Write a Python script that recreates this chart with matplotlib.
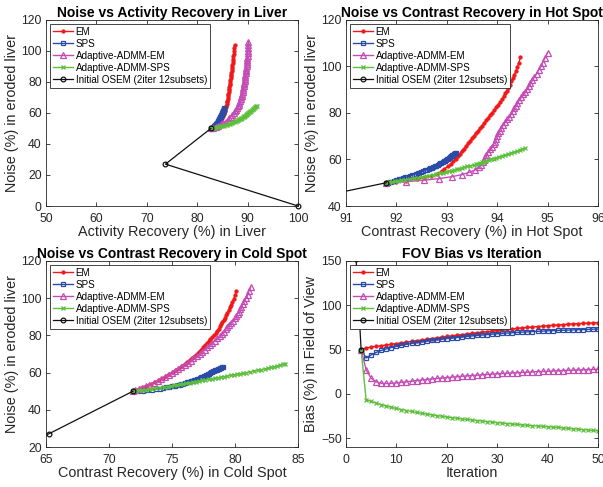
import numpy as np
import matplotlib
matplotlib.use("Agg")
import matplotlib.pyplot as plt

plt.rcParams['font.family'] = ['Liberation Sans', 'DejaVu Sans']

# --- data (iterations 3..50 for the methods) ---
iters = np.arange(3, 51)

noise_em = [50.0, 50.4, 50.9, 51.5, 52.2, 53.0, 53.9, 54.9,
            55.9, 57.0, 58.1, 59.2, 60.3, 61.4, 62.5, 63.6,
            64.7, 65.8, 66.9, 68.0, 69.1, 70.2, 71.3, 72.4,
            73.5, 74.6, 75.7, 76.8, 77.9, 79.0, 80.1, 81.2,
            82.4, 83.6, 84.8, 86.0, 87.2, 88.4, 89.6, 90.8,
            92.2, 93.6, 95.0, 96.5, 98.0, 99.7, 101.6, 104.0]
noise_sps = [50.0, 50.1, 50.3, 50.5, 50.8, 51.1, 51.4, 51.7,
             52.0, 52.3, 52.6, 52.9, 53.2, 53.5, 53.8, 54.1,
             54.4, 54.7, 55.0, 55.3, 55.6, 55.9, 56.2, 56.5,
             56.8, 57.1, 57.4, 57.7, 58.0, 58.3, 58.6, 58.9,
             59.2, 59.5, 59.8, 60.1, 60.4, 60.7, 61.0, 61.2,
             61.4, 61.6, 61.8, 62.0, 62.3, 62.5, 62.8, 63.0]
noise_aem = [50.0, 50.5, 51.1, 51.8, 52.6, 53.5, 54.5, 55.5,
             56.6, 57.7, 58.8, 59.9, 61.0, 62.1, 63.2, 64.3,
             65.4, 66.5, 67.6, 68.8, 70.0, 71.2, 72.4, 73.6,
             74.8, 76.0, 77.2, 78.4, 79.6, 80.8, 82.0, 83.2,
             84.4, 85.6, 86.8, 88.0, 89.2, 90.4, 91.6, 92.8,
             94.1, 95.5, 96.9, 98.4, 100.0, 101.7, 103.7, 106.0]
noise_asps = [50.0, 50.2, 50.4, 50.6, 50.8, 51.0, 51.3, 51.6,
              51.9, 52.2, 52.5, 52.8, 53.1, 53.4, 53.7, 54.0,
              54.3, 54.6, 54.9, 55.2, 55.5, 55.8, 56.1, 56.4,
              56.7, 57.0, 57.3, 57.6, 57.9, 58.2, 58.5, 58.8,
              59.1, 59.4, 59.7, 60.0, 60.4, 60.8, 61.2, 61.6,
              62.0, 62.4, 62.8, 63.2, 63.6, 64.0, 64.4, 64.8]

# activity recovery in liver
liver_em = [82.7, 83.0, 83.3, 83.6, 83.85, 84.1, 84.35, 84.6,
            84.8, 85.0, 85.15, 85.3, 85.4, 85.5, 85.6, 85.7,
            85.8, 85.85, 85.9, 86.0, 86.05, 86.1, 86.15, 86.2,
            86.25, 86.3, 86.35, 86.4, 86.45, 86.5, 86.55, 86.6,
            86.65, 86.7, 86.75, 86.8, 86.85, 86.9, 86.95, 87.0,
            87.05, 87.1, 87.15, 87.2, 87.25, 87.3, 87.35, 87.4]
liver_sps = [82.7, 82.8, 82.95, 83.05, 83.2, 83.3, 83.4, 83.5,
             83.6, 83.65, 83.7, 83.8, 83.85, 83.9, 84.0, 84.05,
             84.1, 84.15, 84.2, 84.25, 84.3, 84.35, 84.4, 84.45,
             84.5, 84.55, 84.6, 84.65, 84.7, 84.75, 84.8, 84.85,
             84.9, 84.93, 84.97, 85.0, 85.05, 85.08, 85.1, 85.13,
             85.16, 85.19, 85.22, 85.25, 85.28, 85.3, 85.33, 85.35]
liver_aem = [82.7, 83.2, 83.7, 84.2, 84.7, 85.2, 85.65, 86.05,
             86.4, 86.7, 87.0, 87.25, 87.5, 87.7, 87.9, 88.05,
             88.2, 88.35, 88.5, 88.6, 88.7, 88.8, 88.9, 89.0,
             89.1, 89.15, 89.2, 89.3, 89.35, 89.4, 89.45, 89.5,
             89.55, 89.6, 89.65, 89.7, 89.75, 89.8, 89.85, 89.9,
             89.92, 89.95, 90.0, 90.03, 90.06, 90.09, 90.12, 90.15]
liver_asps = [82.7, 83.0, 83.3, 83.6, 83.9, 84.2, 84.6, 85.0,
              85.35, 85.7, 86.0, 86.25, 86.5, 86.75, 87.0, 87.2,
              87.4, 87.6, 87.8, 88.0, 88.15, 88.3, 88.45, 88.6,
              88.75, 88.9, 89.05, 89.2, 89.35, 89.5, 89.6, 89.7,
              89.8, 89.9, 90.0, 90.1, 90.25, 90.4, 90.55, 90.7,
              90.85, 91.0, 91.15, 91.3, 91.45, 91.55, 91.65, 91.8]

# contrast recovery in hot spot
hot_em = [91.8, 92.0, 92.2, 92.4, 92.55, 92.68, 92.8, 92.9,
          92.95, 93.02, 93.08, 93.13, 93.18, 93.22, 93.26, 93.3,
          93.34, 93.38, 93.42, 93.46, 93.5, 93.54, 93.58, 93.62,
          93.66, 93.7, 93.74, 93.78, 93.82, 93.86, 93.9, 93.94,
          93.98, 94.02, 94.06, 94.1, 94.13, 94.16, 94.19, 94.22,
          94.25, 94.28, 94.31, 94.34, 94.37, 94.4, 94.43, 94.46]
hot_sps = [91.8, 91.83, 91.87, 91.9, 91.95, 92.0, 92.05, 92.1,
           92.14, 92.18, 92.22, 92.26, 92.3, 92.34, 92.38, 92.42,
           92.45, 92.49, 92.53, 92.57, 92.6, 92.64, 92.67, 92.7,
           92.73, 92.76, 92.79, 92.82, 92.85, 92.87, 92.89, 92.92,
           92.94, 92.96, 92.98, 93.0, 93.02, 93.04, 93.06, 93.07,
           93.08, 93.1, 93.11, 93.12, 93.14, 93.15, 93.17, 93.18]
hot_aem = [91.8, 92.2, 92.55, 92.85, 93.1, 93.3, 93.45, 93.56,
           93.64, 93.68, 93.71, 93.74, 93.76, 93.78, 93.82, 93.86,
           93.9, 93.93, 93.95, 93.97, 93.99, 94.02, 94.05, 94.08,
           94.12, 94.16, 94.2, 94.24, 94.28, 94.31, 94.34, 94.37,
           94.4, 94.44, 94.48, 94.52, 94.56, 94.6, 94.63, 94.66,
           94.7, 94.74, 94.78, 94.82, 94.86, 94.9, 94.95, 95.0]
hot_asps = [91.8, 91.86, 91.92, 91.98, 92.04, 92.1, 92.18, 92.26,
            92.34, 92.42, 92.5, 92.58, 92.65, 92.72, 92.79, 92.86,
            92.92, 92.98, 93.04, 93.1, 93.15, 93.2, 93.25, 93.3,
            93.35, 93.41, 93.47, 93.53, 93.57, 93.61, 93.65, 93.69,
            93.73, 93.78, 93.83, 93.88, 93.93, 93.98, 94.04, 94.1,
            94.16, 94.22, 94.28, 94.34, 94.4, 94.45, 94.5, 94.55]

# contrast recovery in cold spot
cold_em = [71.9, 72.05, 72.25, 72.5, 72.75, 73.05, 73.35, 73.65,
           73.95, 74.25, 74.55, 74.8, 75.05, 75.3, 75.55, 75.8,
           76.0, 76.2, 76.4, 76.6, 76.8, 77.0, 77.15, 77.3,
           77.45, 77.6, 77.75, 77.9, 78.05, 78.2, 78.35, 78.5,
           78.6, 78.7, 78.8, 78.9, 79.0, 79.1, 79.2, 79.3,
           79.4, 79.5, 79.6, 79.7, 79.8, 79.9, 80.0, 80.1]
cold_sps = [71.9, 72.3, 72.7, 73.05, 73.4, 73.75, 74.05, 74.3,
            74.55, 74.8, 75.0, 75.2, 75.4, 75.6, 75.75, 75.9,
            76.05, 76.2, 76.35, 76.5, 76.62, 76.74, 76.86, 76.98,
            77.1, 77.2, 77.3, 77.4, 77.5, 77.6, 77.7, 77.8,
            77.88, 77.96, 78.04, 78.12, 78.2, 78.28, 78.36, 78.43,
            78.5, 78.57, 78.64, 78.71, 78.8, 78.88, 78.96, 79.05]
cold_aem = [71.9, 72.1, 72.35, 72.6, 72.9, 73.2, 73.55, 73.85,
            74.15, 74.45, 74.75, 75.0, 75.25, 75.5, 75.75, 76.0,
            76.25, 76.5, 76.7, 76.95, 77.2, 77.4, 77.6, 77.8,
            78.0, 78.2, 78.4, 78.6, 78.8, 78.95, 79.1, 79.25,
            79.4, 79.55, 79.7, 79.85, 80.0, 80.1, 80.2, 80.3,
            80.4, 80.5, 80.6, 80.7, 80.85, 81.0, 81.1, 81.25]
cold_asps = [71.9, 72.15, 72.4, 72.65, 72.9, 73.15, 73.45, 73.75,
             74.05, 74.35, 74.65, 74.9, 75.15, 75.4, 75.65, 75.9,
             76.15, 76.4, 76.65, 76.9, 77.15, 77.4, 77.65, 77.9,
             78.15, 78.4, 78.65, 78.9, 79.15, 79.4, 79.65, 79.9,
             80.15, 80.4, 80.65, 80.9, 81.2, 81.5, 81.8, 82.1,
             82.35, 82.6, 82.85, 83.1, 83.35, 83.6, 83.8, 84.0]

# FOV bias
bias_em = [50.0, 51.8, 52.8, 53.6, 54.4, 55.2, 56.0, 56.8,
           57.6, 58.4, 59.2, 60.0, 60.8, 61.6, 62.4, 63.2,
           64.0, 64.8, 65.5, 66.2, 66.9, 67.6, 68.3, 69.0,
           69.7, 70.3, 70.9, 71.5, 72.1, 72.7, 73.3, 73.9,
           74.5, 75.0, 75.5, 76.0, 76.5, 77.0, 77.4, 77.8,
           78.2, 78.6, 79.0, 79.3, 79.6, 79.9, 80.2, 80.5]
bias_sps = [50.0, 40.5, 44.0, 46.8, 49.0, 50.8, 52.3, 53.6,
            54.8, 55.9, 56.9, 57.8, 58.7, 59.5, 60.3, 61.0,
            61.7, 62.4, 63.0, 63.6, 64.2, 64.8, 65.4, 65.9,
            66.4, 66.9, 67.4, 67.8, 68.2, 68.6, 69.0, 69.4,
            69.7, 70.0, 70.3, 70.6, 70.9, 71.2, 71.4, 71.6,
            71.8, 72.0, 72.2, 72.4, 72.6, 72.8, 73.0, 73.2]
bias_aem = [50.0, 27.0, 17.5, 13.5, 12.0, 11.7, 11.9, 12.4,
            13.0, 13.6, 14.3, 15.0, 15.6, 16.2, 16.8, 17.4,
            17.9, 18.4, 18.9, 19.4, 19.9, 20.3, 20.7, 21.1,
            21.5, 21.9, 22.3, 22.7, 23.0, 23.3, 23.6, 23.9,
            24.2, 24.5, 24.8, 25.1, 25.3, 25.5, 25.8, 26.0,
            26.3, 26.6, 26.8, 27.0, 27.2, 27.4, 27.6, 27.8]
bias_asps = [50.0, -7.0, -8.5, -10.4, -12.2, -13.8, -15.2, -16.5,
             -17.7, -18.8, -19.9, -20.9, -21.9, -22.8, -23.7, -24.5,
             -25.3, -26.1, -26.8, -27.5, -28.2, -28.9, -29.5, -30.1,
             -30.7, -31.3, -31.9, -32.5, -33.0, -33.5, -34.0, -34.5,
             -35.0, -35.5, -35.9, -36.3, -36.7, -37.1, -37.5, -37.9,
             -38.4, -38.9, -39.4, -39.9, -40.4, -40.8, -41.3, -41.7]

# initial OSEM (iterations 1..3)
osem_iter = [1, 2, 3]
osem_noise = [0.0, 27.0, 50.0]
osem_liver = [100.0, 73.7, 82.7]
osem_hot = [0.0, 86.7, 91.8]
osem_cold = [0.0, 65.2, 71.9]
osem_bias = [300.0, 152.0, 50.0]

labels = ['EM', 'SPS', 'Adaptive-ADMM-EM', 'Adaptive-ADMM-SPS',
          'Initial OSEM (2iter 12subsets)']

styles = [dict(color='#f01818', marker='o', ms=2.7, lw=1.0, mew=0.3),
          dict(color='#2a4ca8', marker='s', ms=2.7, lw=1.0, mfc='none', mew=0.9),
          dict(color='#c44cb4', marker='^', ms=4.6, lw=1.0, mfc='none', mew=0.9),
          dict(color='#5cc03c', marker='x', ms=3.2, lw=1.0, mew=0.9),
          dict(color='#101010', marker='o', ms=3.4, lw=0.9, mfc='none', mew=0.9)]

txt = '#262626'

fig = plt.figure(figsize=(6.03, 4.87), dpi=100)
W, H = 0.4179, 0.382
axs = [fig.add_axes([0.0763, 0.577, W, H]),
       fig.add_axes([0.5738, 0.577, W, H]),
       fig.add_axes([0.0763, 0.0821, W, H]),
       fig.add_axes([0.5738, 0.0821, W, H])]


def panel(ax, xs, ys, title, xlabel, ylabel, xlim, ylim, xticks, yticks, clip=True):
    for x, y, st, lab in zip(xs, ys, styles, labels):
        ax.plot(x, y, label=lab, clip_on=clip, **st)
    ax.set_xlim(xlim)
    ax.set_ylim(ylim)
    ax.set_xticks(xticks)
    ax.set_yticks(yticks)
    ax.set_title(title, fontsize=10, fontweight='bold', pad=2)
    ax.set_xlabel(xlabel, fontsize=10.4, color=txt, labelpad=0)
    ax.set_ylabel(ylabel, fontsize=10.4, color=txt, labelpad=2)
    ax.tick_params(direction='in', length=3, width=0.6, top=True, right=True,
                   labelsize=8.8, colors=txt, pad=3)
    ax.tick_params(axis='x', pad=5)
    for s in ax.spines.values():
        s.set_linewidth(0.6)
        s.set_color(txt)
    leg = ax.legend(loc='upper left', fontsize=7.1, fancybox=False, framealpha=1,
                    edgecolor='#262626', borderpad=0.3, labelspacing=0.2,
                    handlelength=2.0, handletextpad=0.3, borderaxespad=0.4)
    leg.get_frame().set_linewidth(0.6)


panel(axs[0], [liver_em, liver_sps, liver_aem, liver_asps, osem_liver],
      [noise_em, noise_sps, noise_aem, noise_asps, osem_noise],
      'Noise vs Activity Recovery in Liver', 'Activity Recovery (%) in Liver',
      'Noise (%) in eroded liver', (50, 100), (0, 120),
      range(50, 101, 10), range(0, 121, 20), clip=False)
panel(axs[1], [hot_em, hot_sps, hot_aem, hot_asps, osem_hot],
      [noise_em, noise_sps, noise_aem, noise_asps, osem_noise],
      'Noise vs Contrast Recovery in Hot Spot', 'Contrast Recovery (%) in Hot Spot',
      'Noise (%) in eroded liver', (91, 96), (40, 120),
      range(91, 97), range(40, 121, 20))
panel(axs[2], [cold_em, cold_sps, cold_aem, cold_asps, osem_cold],
      [noise_em, noise_sps, noise_aem, noise_asps, osem_noise],
      'Noise vs Contrast Recovery in Cold Spot', 'Contrast Recovery (%) in Cold Spot',
      'Noise (%) in eroded liver', (65, 85), (20, 120),
      range(65, 86, 5), range(20, 121, 20))
panel(axs[3], [iters, iters, iters, iters, osem_iter],
      [bias_em, bias_sps, bias_aem, bias_asps, osem_bias],
      'FOV Bias vs Iteration', 'Iteration', 'Bias (%) in Field of View',
      (0, 50), (-60, 150), range(0, 51, 10), range(-50, 151, 50))

fig.savefig('out.png', dpi=100)
